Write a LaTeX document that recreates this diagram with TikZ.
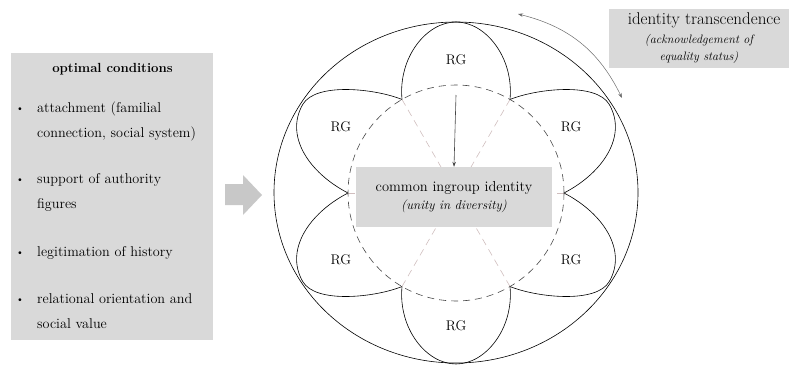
\documentclass[tikz,border=0pt]{standalone}
\usepackage{tikz}
\usetikzlibrary{positioning,arrows.meta,calc}
\definecolor{boxgrey}{RGB}{217,217,217}
\definecolor{arrowgrey}{RGB}{200,200,200}
\definecolor{spokegrey}{RGB}{208,190,190}
\definecolor{linegrey}{RGB}{70,70,70}

\begin{document}
\begin{tikzpicture}[x=1pt,y=1pt,>={Stealth[length=5pt,width=3.5pt]},
  greybox/.style={fill=boxgrey,inner sep=0pt},
  itemtext/.style={anchor=base west,text width=172pt,align=left,inner sep=0pt,font=\fontsize{14.2}{25}\selectfont},
  bulletdot/.style={anchor=base,inner sep=0pt,font=\fontsize{10}{10}\selectfont},
  petal/.style={draw=black,line width=0.6pt},
  rg/.style={font=\fontsize{14}{16}\selectfont},
  spoke/.style={spokegrey,dash pattern=on 7pt off 5pt,line width=0.6pt}]
  \useasboundingbox (0,0) rectangle (792,365);
  % left panel with the conditions
  \node[greybox,minimum width=202pt,minimum height=287pt] (cond) at (112,168.5) {};
  \node[font=\bfseries\fontsize{13.2}{15}\selectfont] (condtitle) at (112.5,296) {optimal conditions};
  \node[itemtext] (i1) at (37,253) {attachment (familial\\connection, social system)};
  \node[itemtext] (i2) at (37,182) {support of authority\\figures};
  \node[itemtext] (i3) at (37,109) {legitimation of history};
  \node[itemtext] (i4) at (37,62) {relational orientation and\\social value};
  \foreach \k in {1,...,4} \node[bulletdot] (b\k) at ([xshift=-17pt,yshift=0.8pt]i\k.base west) {\textbullet};
  % block arrow
  \fill[arrowgrey] (225,160) -- (243,160) -- (243,150) -- (262,170) -- (243,190) -- (243,181) -- (225,181) -- cycle;
  % outer ellipse and the six petals
  \draw[line width=0.6pt] (456,172.5) ellipse [x radius=182, y radius=170.5];
  \begin{scope}[shift={(456,172)}]
    \foreach \a in {90,-90}
      \draw[petal,rotate=\a] (93.5,-54) .. controls (135,-58) and (171,-30) .. (171,0)
        .. controls (171,30) and (135,58) .. (93.5,54);
    \foreach \a/\s in {30/1,-30/-1,150/-1,-150/1}
      \draw[petal,rotate=\a,yscale=\s] (93.5,54) .. controls (122,50) and (177,26) .. (177,0)
        .. controls (177,-36) and (138,-56) .. (93.5,-54);
    \foreach \a in {0,60,...,300} \draw[spoke] (\a:108) -- (0,0);
    \draw[linegrey,dash pattern=on 7pt off 5pt,line width=0.6pt] (0,0) circle[radius=108];
    \foreach \a [count=\k] in {90,30,-30,-90,-150,150} \node[rg] (rg\k) at (\a:133) {RG};
  \end{scope}
  % centre box
  \node[greybox,minimum width=196pt,minimum height=60pt,align=center,font=\fontsize{14.5}{18}\selectfont] (common) at (454,168)
    {common ingroup identity\\{\itshape\fontsize{13}{18}\selectfont (unity in diversity)}};
  \coordinate (arrtop) at (456,270);
  \draw[linegrey,line width=0.6pt,->] (arrtop) -- (common.north);
  % transcendence box and arrow
  \node[greybox,minimum width=180pt,minimum height=59pt,align=center,font=\fontsize{12.2}{17}\selectfont] (trans) at (699,326.5)
    {{\fontsize{17}{19}\selectfont\hspace*{10pt}identity transcendence}\\[2pt]{\itshape (acknowledgement of}\\{\itshape equality status)}};
  \coordinate (tA) at (518,351);
  \coordinate (tB) at (622,267);
  \draw[linegrey!80,line width=0.5pt,<->] (tA) to[bend left=25] (tB);
\end{tikzpicture}
\end{document}
